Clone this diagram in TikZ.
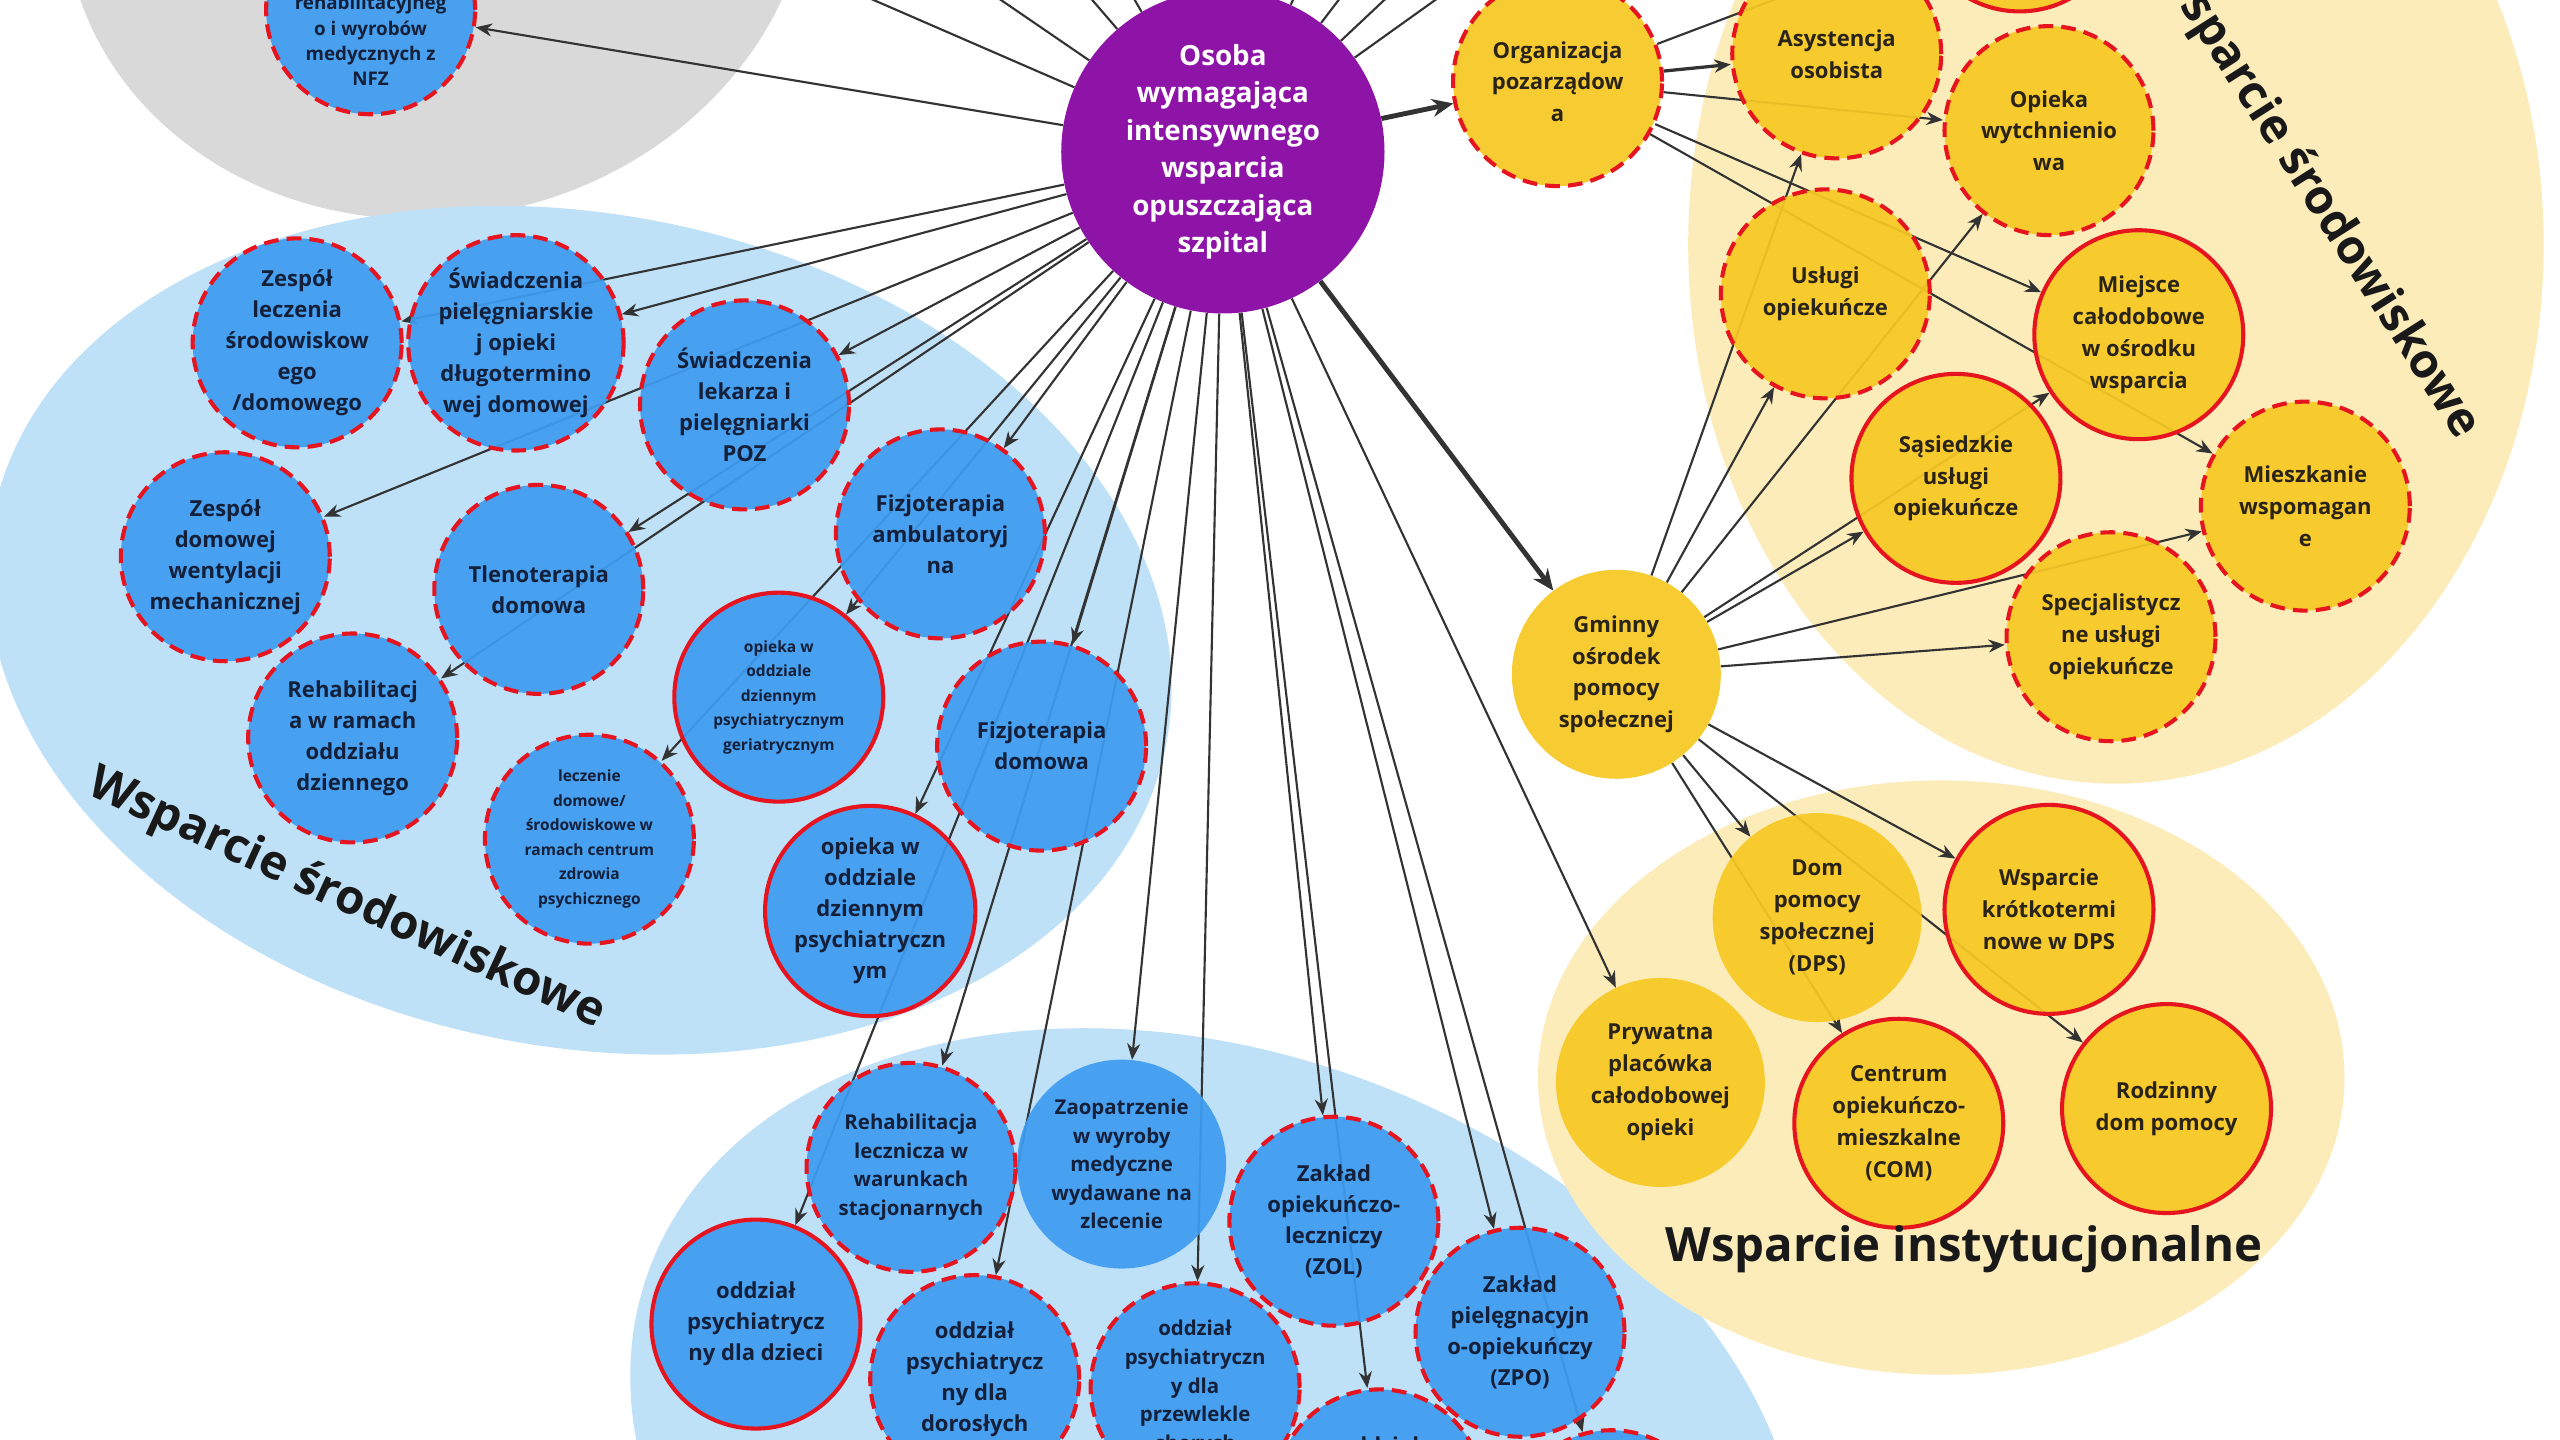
\documentclass[tikz,border=0pt]{standalone}
\usepackage{fontspec}
\setmainfont{Open Sans}
\usetikzlibrary{arrows.meta}

\pgfdeclarelayer{blobs}
\pgfdeclarelayer{edges}
\pgfsetlayers{blobs,edges,main}

\definecolor{nodeblue}{RGB}{62,156,240}
\definecolor{blobblue}{RGB}{191,225,248}
\definecolor{blobgray}{RGB}{217,217,217}
\definecolor{nodeyellow}{RGB}{247,200,35}
\definecolor{blobyellow}{RGB}{252,236,186}
\definecolor{hosppurple}{RGB}{142,20,168}
\definecolor{ringred}{RGB}{230,20,30}
\definecolor{navytext}{RGB}{20,32,58}
\definecolor{browntext}{RGB}{42,36,24}
\definecolor{linkgray}{RGB}{51,51,51}

\begin{document}
\begin{tikzpicture}[x=1pt,y=-1pt,
  bubble/.style={circle,minimum size=128pt,inner sep=0pt,align=center,fill opacity=0.93,text opacity=1,font=\bfseries\fontsize{13.5}{19}\selectfont},
  blue bubble/.style={bubble,fill=nodeblue,text=navytext},
  yellow bubble/.style={bubble,fill=nodeyellow,text=browntext,font=\bfseries\fontsize{13.5}{19.5}\selectfont},
  dashed ring/.style={draw=ringred,draw opacity=1,line width=2.5pt,dash pattern=on 9pt off 5pt},
  solid ring/.style={draw=ringred,draw opacity=1,line width=2.5pt},
  small text/.style={font=\bfseries\fontsize{9.5}{15}\selectfont},
  mid text/.style={font=\bfseries\fontsize{12.5}{17.5}\selectfont},
  link/.style={draw=linkgray,line width=1.3pt,-{Stealth[length=10pt,width=8pt]}},
  main link/.style={draw=linkgray,line width=3pt,-{Stealth[length=13pt,width=11pt]}},
  group label/.style={text=black!90,font=\bfseries\fontsize{29}{32}\selectfont}]
  \useasboundingbox (0,0) rectangle (1568,882);

  % centre
  \node[circle,minimum size=198pt,inner sep=0pt,fill=hosppurple,text=white,align=center,
        font=\bfseries\fontsize{17}{23}\selectfont] (osoba) at (749,93)
        {Osoba\\wymagająca\\intensywnego\\wsparcia\\opuszczająca\\szpital};

  % NFZ (grey)
  \node[blue bubble,dashed ring] (nfz) at (227,6) {};
  \node[text=navytext,align=center,font=\bfseries\fontsize{11.5}{15.5}\selectfont] (nfztext) at (227,25)
        {rehabilitacyjneg\\o i wyrobów\\medycznych z\\NFZ};

  % srodowiskowe (blue)
  \node[blue bubble,dashed ring] (zlsd) at (182,210) {Zespół\\leczenia\\środowiskow\\ego\\/domowego};
  \node[blue bubble,dashed ring] (pdd) at (316,210) {Świadczenia\\pielęgniarskie\\j opieki\\długotermino\\wej domowej};
  \node[blue bubble,dashed ring] (poz) at (456,248) {Świadczenia\\lekarza i\\pielęgniarki\\POZ};
  \node[blue bubble,dashed ring] (wentylacja) at (138,341) {Zespół\\domowej\\wentylacji\\mechanicznej};
  \node[blue bubble,dashed ring] (tlen) at (330,361) {Tlenoterapia\\domowa};
  \node[blue bubble,dashed ring] (fizjoamb) at (576,327) {Fizjoterapia\\ambulatoryj\\na};
  \node[blue bubble,dashed ring] (rehabdzienna) at (216,452) {Rehabilitacj\\a w ramach\\oddziału\\dziennego};
  \node[blue bubble,solid ring,small text] (geriatria) at (477,427) {opieka w\\oddziale\\dziennym\\psychiatrycznym\\geriatrycznym};
  \node[blue bubble,dashed ring,small text] (czp) at (361,514) {leczenie\\domowe/\\środowiskowe w\\ramach centrum\\zdrowia\\psychicznego};
  \node[blue bubble,dashed ring] (fizjodom) at (638,457) {Fizjoterapia\\domowa};
  \node[blue bubble,solid ring] (psychdzienny) at (533,558) {opieka w\\oddziale\\dziennym\\psychiatryczn\\ym};

  % szpitalne (blue, bottom)
  \node[blue bubble,dashed ring,mid text] (rehabstac) at (558,715) {Rehabilitacja\\lecznicza w\\warunkach\\stacjonarnych};
  \node[blue bubble,mid text] (zaopatrzenie) at (687,713) {Zaopatrzenie\\w wyroby\\medyczne\\wydawane na\\zlecenie};
  \node[blue bubble,dashed ring] (zol) at (817,748) {Zakład\\opiekuńczo-\\leczniczy\\(ZOL)};
  \node[blue bubble,dashed ring] (zpo) at (931,816) {Zakład\\pielęgnacyjn\\o-opiekuńczy\\(ZPO)};
  \node[blue bubble,solid ring] (psychdzieci) at (463,811) {oddział\\psychiatrycz\\ny dla dzieci};
  \node[blue bubble,dashed ring] (psychdorosli) at (597,845) {oddział\\psychiatrycz\\ny dla\\dorosłych};
  \node[blue bubble,dashed ring,mid text] (psychprzewlekle) at (732,850) {oddział\\psychiatryczn\\y dla\\przewlekle\\chorych};
  \node[blue bubble,dashed ring] (dol1) at (845,915) {};
  \node[text=navytext,anchor=base,font=\bfseries\fontsize{13.5}{19}\selectfont] (dol1text) at (845,890) {oddział};
  \node[blue bubble,dashed ring] (dol2) at (987,940) {};

  % pomoc spoleczna (yellow)
  \node[yellow bubble,dashed ring] (ngo) at (954,50) {Organizacja\\pozarządow\\a};
  \node[yellow bubble,dashed ring] (asystencja) at (1125,33) {Asystencja\\osobista};
  \node[yellow bubble,solid ring] (gora) at (1237,-57) {};
  \node[yellow bubble,dashed ring] (wytchnienie) at (1255,80) {Opieka\\wytchnienio\\wa};
  \node[yellow bubble,dashed ring] (uslugi) at (1118,180) {Usługi\\opiekuńcze};
  \node[yellow bubble,solid ring] (miejsce) at (1310,205) {Miejsce\\całodobowe\\w ośrodku\\wsparcia};
  \node[yellow bubble,solid ring] (sasiedzkie) at (1198,293) {Sąsiedzkie\\usługi\\opiekuńcze};
  \node[yellow bubble,dashed ring] (mieszkanie) at (1412,310) {Mieszkanie\\wspomagan\\e};
  \node[yellow bubble,dashed ring] (specjalistyczne) at (1293,390) {Specjalistycz\\ne usługi\\opiekuńcze};
  \node[yellow bubble] (gops) at (990,413) {Gminny\\ośrodek\\pomocy\\społecznej};
  \node[yellow bubble] (dps) at (1113,562) {Dom\\pomocy\\społecznej\\(DPS)};
  \node[yellow bubble,solid ring] (krotkoterm) at (1255,557) {Wsparcie\\krótkotermi\\nowe w DPS};
  \node[yellow bubble] (prywatna) at (1017,663) {Prywatna\\placówka\\całodobowej\\opieki};
  \node[yellow bubble,solid ring] (com) at (1163,688) {Centrum\\opiekuńczo-\\mieszkalne\\(COM)};
  \node[yellow bubble,solid ring] (rodzinny) at (1327,679) {Rodzinny\\dom pomocy};

  \node[group label,rotate=-24.7] (srodlewy) at (212,551) {Wsparcie środowiskowe};
  \node[group label,rotate=-57.5] (srodprawy) at (1419,121) {Wsparcie środowiskowe};
  \node[group label] (instytucjonalne) at (1203,765) {Wsparcie instytucjonalne};

  \begin{pgfonlayer}{blobs}
    \fill[white] (0,0) rectangle (1568,882);
    \fill[blobgray,rotate around={12:(268,-70)}] (268,-70) ellipse [x radius=230, y radius=203];
    \fill[blobblue,rotate around={-11:(355,386)}] (355,386) ellipse [x radius=366, y radius=255];
    \fill[blobblue,rotate around={-20:(745,905)}] (745,905) ellipse [x radius=370, y radius=260];
    \fill[blobyellow] (1296,150) ellipse [x radius=262, y radius=330];
    \fill[blobyellow] (1189,660) ellipse [x radius=247, y radius=182];
  \end{pgfonlayer}

  \begin{pgfonlayer}{edges}
    \coordinate (up1) at (420,-50);
    \coordinate (up2) at (540,-50);
    \coordinate (up3) at (626,-50);
    \coordinate (up4) at (666,-50);
    \coordinate (up5) at (815,-50);
    \coordinate (up6) at (858,-50);
    \coordinate (up7) at (901,-50);
    \coordinate (up8) at (949,-50);
    \foreach \dest in {up1,up2,up3,up4,up5,up6,up7,up8,nfz,zlsd,pdd,poz,wentylacja,tlen,fizjoamb,rehabdzienna,geriatria,czp,fizjodom,psychdzienny,rehabstac,zaopatrzenie,psychdzieci,psychdorosli,psychprzewlekle,zol,zpo,dol1,dol2,prywatna}
      \draw[link] (osoba) -- (\dest);
    \draw[main link] (osoba) -- (ngo);
    \draw[main link] (osoba) -- (gops);
    \draw[link,line width=2pt] (ngo) -- (asystencja);
    \foreach \dest in {gora,wytchnienie,miejsce,mieszkanie}
      \draw[link] (ngo) -- (\dest);
    \foreach \dest in {asystencja,uslugi,wytchnienie,miejsce,sasiedzkie,mieszkanie,specjalistyczne,dps,krotkoterm,com,rodzinny}
      \draw[link] (gops) -- (\dest);
  \end{pgfonlayer}
\end{tikzpicture}
\end{document}
